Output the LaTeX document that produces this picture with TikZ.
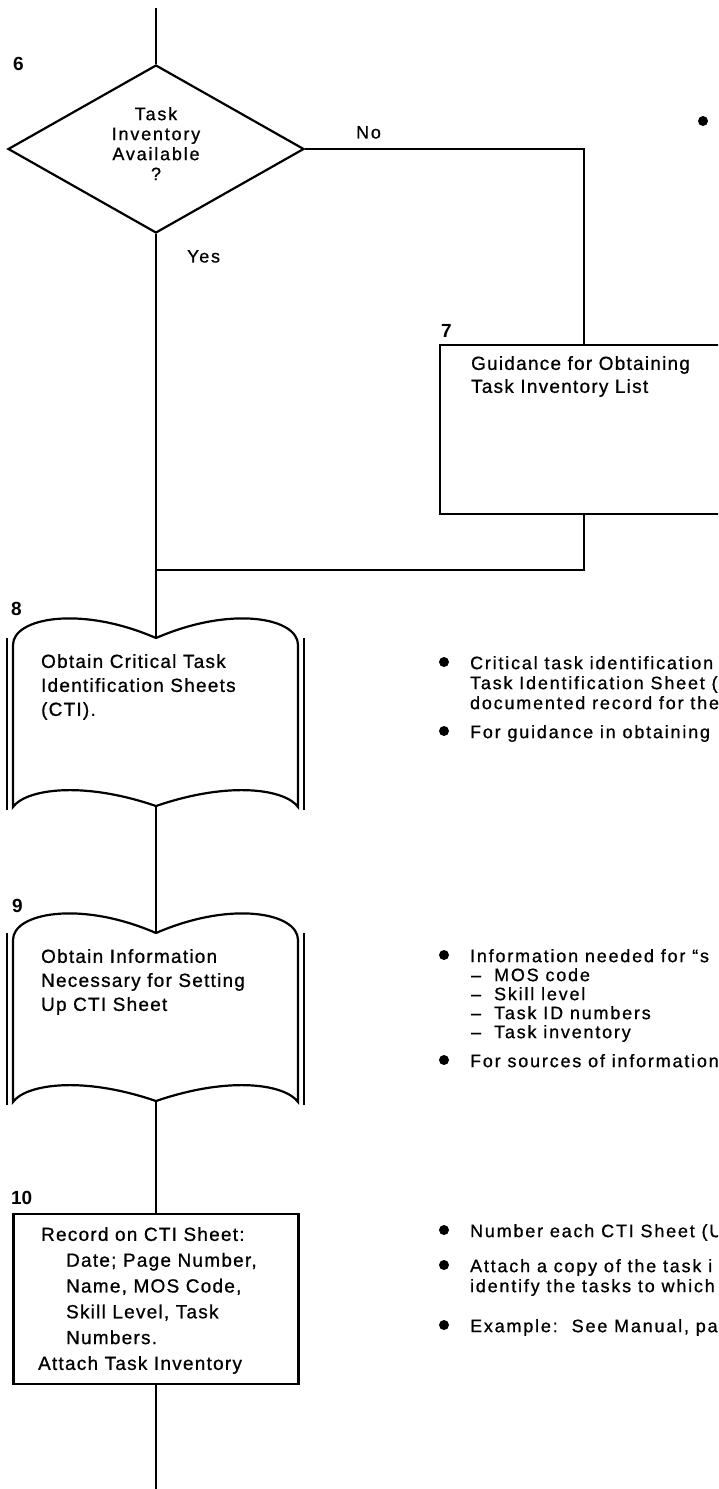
\documentclass[tikz,border=0pt]{standalone}
\usepackage{fontspec}
\setmainfont{Liberation Sans}
\newfontfamily\boxfont{Liberation Sans}[LetterSpace=6.5, FakeBold=0.8]
\newfontfamily\sidefont{Liberation Sans}[LetterSpace=10, FakeBold=0.8]
\usetikzlibrary{shapes.geometric}
\tikzset{
  book/.pic={
    \draw (13,170) -- (13,8) .. controls (13,-19) and (80,-32) .. (156,1)
      .. controls (232,-32) and (298,-19) .. (298,8) -- (298,170)
      .. controls (286,153) and (232,143) .. (156,169)
      .. controls (80,143) and (25,153) .. (13,170) -- cycle;
    \draw (7,1) -- (7,173);
    \draw (304,1) -- (304,173);
  }
}
\begin{document}
\begin{tikzpicture}[x=1pt,y=-1pt,line width=2.2pt,
  lbl/.style={font=\bfseries\fontsize{19}{20}\selectfont, anchor=base west, inner sep=0},
  stxt/.style={font={\sidefont\fontsize{18}{20}\selectfont}, align=left, anchor=north west, inner sep=0},
  btxt/.style={font={\boxfont\fontsize{19}{24}\selectfont}, align=left, anchor=north west, inner sep=0},
  bul/.style={circle, fill, draw=none, inner sep=0, minimum size=10pt},
  decision/.style={diamond, draw, minimum width=296pt, minimum height=168pt, inner sep=0},
  procbox/.style={draw, rectangle, inner sep=0}
]
\useasboundingbox (0,0) rectangle (718,1489);
\fill[white] (0,0) rectangle (718,1489);
\clip (0,0) rectangle (718,1489);

% step 6
\coordinate (top) at (156,8);
\node[decision] (d6) at (156,149) {};
\node[lbl] (l6) at (12,70) {6};
\node[stxt, anchor=north, align=center] (d6t) at (156,106) {Task\\Inventory\\Available\\?};
\node[stxt] (yes) at (186,249) {Yes};
\node[stxt] (no) at (355,125) {No};
\node[bul] (bt) at (703,121) {};

% step 7
\node[procbox, anchor=north west, minimum width=288pt, minimum height=169pt] (b7) at (439,344) {};
\node[lbl] (l7) at (440,337) {7};
\node[btxt, font={\boxfont\fontsize{19}{23}\selectfont}] (b7t) at (470,355) {Guidance for Obtaining\\Task Inventory List};

\coordinate (m) at (156,570);

% step 8
\pic at (0,637) {book};
\coordinate (b8top) at (156,638);
\coordinate (b8bot) at (156,806);
\node[lbl] (l8) at (10,615) {8};
\node[btxt] (b8t) at (40,653) {Obtain Critical Task\\Identification Sheets\\(CTI).};
\node[bul] (u8a) at (444,662) {};
\node[stxt] (s8a) at (469,655) {Critical task identification\\Task Identification Sheet (\\documented record for the};
\node[bul] (u8b) at (444,731) {};
\node[stxt] (s8b) at (469,724) {For guidance in obtaining};

% step 9
\pic at (0,932) {book};
\coordinate (b9top) at (156,933);
\coordinate (b9bot) at (156,1101);
\node[lbl] (l9) at (11,912) {9};
\node[btxt] (b9t) at (40,948) {Obtain Information\\Necessary for Setting\\Up CTI Sheet};
\node[bul] (u9a) at (444,955) {};
\node[stxt] (s9a) at (469,948) {Information needed for “s};
\node[stxt, font={\sidefont\fontsize{18}{19}\selectfont}] (s9b) at (470,967) {–\hspace{13pt}MOS code\\–\hspace{13pt}Skill level\\–\hspace{13pt}Task ID numbers\\–\hspace{13pt}Task inventory};
\node[bul] (u9b) at (444,1060) {};
\node[stxt] (s9c) at (469,1053) {For sources of information};

% step 10
\node[procbox, anchor=north, minimum width=285pt, minimum height=170pt] (b10) at (156,1213) {};
\node[lbl] (l10) at (10,1204) {10};
\node[btxt, font={\boxfont\fontsize{19}{25.8}\selectfont}] (b10t) at (40,1226) {Record on CTI Sheet:\\\hspace*{25pt}Date; Page Number,\\\hspace*{25pt}Name, MOS Code,\\\hspace*{25pt}Skill Level, Task\\\hspace*{25pt}Numbers.\\\hspace*{-3pt}Attach Task Inventory};
\node[bul] (u10a) at (444,1230) {};
\node[stxt] (s10a) at (469,1223) {Number each CTI Sheet (U};
\node[bul] (u10b) at (444,1265) {};
\node[stxt] (s10b) at (469,1258) {Attach a copy of the task i\\identify the tasks to which};
\node[bul] (u10c) at (444,1325) {};
\node[stxt] (s10c) at (469,1318) {Example:\hspace{14pt}See Manual, pa};

\coordinate (bot) at (156,1495);

% connectors
\draw (top) -- (d6.north);
\draw (d6.east) -| (b7.north);
\draw (d6.south) -- (m) -- (b8top);
\draw (b7.south) |- (m);
\draw (b8bot) -- (b9top);
\draw (b9bot) -- (b10.north);
\draw (b10.south) -- (bot);
\end{tikzpicture}
\end{document}
